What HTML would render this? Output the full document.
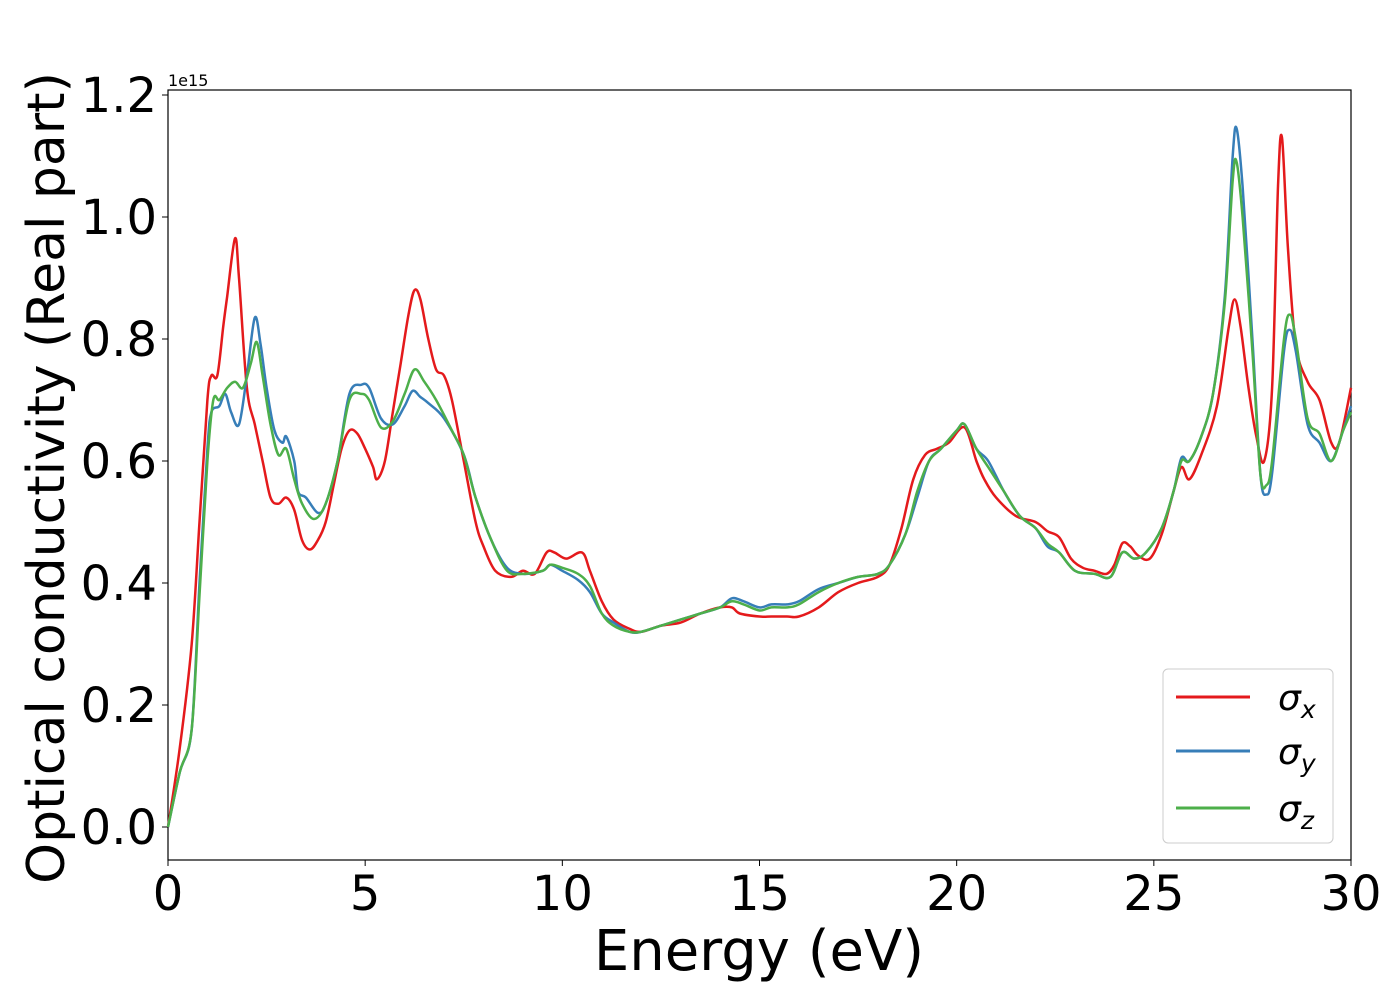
<!DOCTYPE html>
<html><head><meta charset="utf-8"><style>
body{margin:0;background:#fff;}
svg{display:block;font-family:"DejaVu Sans","Liberation Sans",sans-serif;}
</style></head><body>
<svg id="chart" width="1400" height="1000">
<rect x="168" y="90" width="1183" height="770" fill="#fff" stroke="#000" stroke-width="1.2"/>
<g id="ticks"></g>
<g id="lines"></g>
<text x="168" y="86" font-size="16">1e15</text>
<text x="759" y="970" font-size="56" text-anchor="middle">Energy (eV)</text>
<text transform="translate(64,478) rotate(-90)" font-size="52" text-anchor="middle">Optical conductivity (Real part)</text>
<g>
<rect x="1163" y="669" width="170" height="174" rx="5" fill="#fff" fill-opacity="0.8" stroke="#ccc"/>
<line x1="1176" y1="697" x2="1250" y2="697" stroke="#e41a1c" stroke-width="3"/>
<text x="1278" y="710" font-size="36" font-style="italic">σ<tspan font-size="25" dy="8">x</tspan></text>
<line x1="1176" y1="751" x2="1250" y2="751" stroke="#377eb8" stroke-width="3"/>
<text x="1278" y="764" font-size="36" font-style="italic">σ<tspan font-size="25" dy="8">y</tspan></text>
<line x1="1176" y1="808" x2="1250" y2="808" stroke="#4daf4a" stroke-width="3"/>
<text x="1278" y="821" font-size="36" font-style="italic">σ<tspan font-size="25" dy="8">z</tspan></text>
</g>
</svg>
<script>
const xTicks=[0,5,10,15,20,25,30];
const yTicks=[0,0.2,0.4,0.6,0.8,1.0,1.2];
const yTickLabels=["0.0","0.2","0.4","0.6","0.8","1.0","1.2"];
const sxE=[0,0.3,0.6,0.8,1.0,1.1,1.25,1.4,1.5,1.7,1.8,2.0,2.2,2.4,2.6,2.8,3.0,3.2,3.4,3.6,3.8,4.0,4.2,4.4,4.6,4.8,5.0,5.2,5.3,5.5,5.7,5.9,6.1,6.25,6.4,6.6,6.8,7.0,7.2,7.5,7.8,8.0,8.3,8.7,9.0,9.3,9.6,9.8,10.1,10.5,10.7,11.0,11.3,11.7,12.0,12.5,13.0,13.5,14.0,14.3,14.5,15.0,15.3,15.7,16.0,16.5,17.0,17.5,18.0,18.3,18.6,18.9,19.2,19.5,19.8,20.2,20.5,20.7,21.0,21.5,22.0,22.3,22.6,22.9,23.2,23.5,23.8,24.0,24.2,24.4,24.6,24.9,25.2,25.5,25.7,25.9,26.2,26.6,26.9,27.05,27.2,27.4,27.6,27.8,28.0,28.15,28.25,28.4,28.6,28.9,29.2,29.5,29.7,30];
const sxV=[0,0.13,0.3,0.5,0.7,0.74,0.74,0.82,0.87,0.965,0.9,0.72,0.66,0.6,0.54,0.53,0.54,0.52,0.47,0.455,0.47,0.5,0.56,0.62,0.65,0.645,0.62,0.59,0.57,0.6,0.68,0.76,0.84,0.88,0.865,0.8,0.75,0.74,0.7,0.6,0.5,0.46,0.42,0.41,0.42,0.415,0.45,0.45,0.44,0.45,0.42,0.37,0.34,0.325,0.32,0.33,0.335,0.35,0.36,0.36,0.35,0.345,0.345,0.345,0.345,0.36,0.385,0.4,0.41,0.43,0.49,0.57,0.61,0.62,0.63,0.655,0.6,0.57,0.54,0.51,0.5,0.485,0.475,0.44,0.425,0.42,0.415,0.43,0.465,0.46,0.445,0.44,0.48,0.55,0.59,0.57,0.61,0.69,0.82,0.865,0.82,0.72,0.64,0.6,0.72,1.05,1.13,0.95,0.79,0.73,0.7,0.63,0.63,0.72];
const syE=[0,0.3,0.6,0.8,1.0,1.1,1.3,1.45,1.6,1.8,2.0,2.2,2.35,2.5,2.7,2.9,3.0,3.2,3.3,3.5,3.8,4.0,4.3,4.6,4.9,5.1,5.4,5.7,6.0,6.2,6.4,6.6,7.0,7.5,7.8,8.2,8.6,9.0,9.5,9.7,10.0,10.4,10.7,11.0,11.3,11.7,12.0,12.5,13.0,13.5,14.0,14.3,14.6,15.0,15.3,15.7,16.0,16.5,17.0,17.5,18.0,18.3,18.7,19.0,19.3,19.6,20.0,20.2,20.5,20.8,21.2,21.6,22.0,22.3,22.6,23.0,23.5,23.9,24.2,24.5,24.8,25.2,25.5,25.7,25.9,26.2,26.5,26.8,27.0,27.1,27.25,27.5,27.7,27.85,28.0,28.3,28.45,28.6,28.9,29.2,29.5,29.8,30];
const syV=[0,0.09,0.16,0.4,0.62,0.68,0.69,0.71,0.68,0.66,0.74,0.835,0.79,0.72,0.65,0.63,0.64,0.6,0.55,0.54,0.515,0.53,0.6,0.71,0.725,0.72,0.67,0.66,0.69,0.715,0.705,0.695,0.67,0.61,0.54,0.47,0.425,0.415,0.42,0.43,0.42,0.405,0.385,0.35,0.335,0.32,0.32,0.33,0.34,0.35,0.36,0.375,0.37,0.36,0.365,0.365,0.37,0.39,0.4,0.41,0.415,0.43,0.48,0.54,0.6,0.62,0.65,0.66,0.62,0.6,0.55,0.51,0.49,0.46,0.45,0.42,0.415,0.41,0.45,0.44,0.45,0.49,0.55,0.605,0.6,0.64,0.71,0.87,1.1,1.145,1.05,0.8,0.58,0.545,0.58,0.78,0.815,0.78,0.66,0.63,0.6,0.65,0.69];
const szE=[0,0.3,0.6,0.8,1.0,1.15,1.3,1.5,1.7,1.9,2.1,2.25,2.4,2.6,2.8,3.0,3.2,3.4,3.7,4.0,4.3,4.6,4.9,5.1,5.4,5.7,6.0,6.25,6.5,6.8,7.2,7.5,7.8,8.2,8.6,9.0,9.5,9.7,10.0,10.4,10.7,11.0,11.3,11.7,12.0,12.5,13.0,13.5,14.0,14.3,14.6,15.0,15.3,15.7,16.0,16.5,17.0,17.5,18.0,18.3,18.7,19.0,19.3,19.6,20.0,20.2,20.5,20.8,21.2,21.6,22.0,22.3,22.6,23.0,23.5,23.9,24.2,24.5,24.8,25.2,25.5,25.7,25.9,26.2,26.5,26.8,27.0,27.1,27.25,27.5,27.7,27.85,28.0,28.3,28.45,28.6,28.9,29.2,29.5,29.8,30];
const szV=[0,0.09,0.16,0.38,0.6,0.7,0.7,0.72,0.73,0.72,0.76,0.795,0.74,0.66,0.61,0.62,0.57,0.53,0.505,0.53,0.6,0.7,0.71,0.7,0.655,0.665,0.71,0.75,0.73,0.7,0.65,0.61,0.54,0.47,0.42,0.415,0.42,0.43,0.425,0.415,0.395,0.35,0.33,0.32,0.32,0.33,0.34,0.35,0.36,0.37,0.365,0.355,0.36,0.36,0.365,0.385,0.4,0.41,0.415,0.43,0.48,0.55,0.6,0.62,0.65,0.66,0.62,0.59,0.55,0.51,0.49,0.465,0.45,0.42,0.415,0.41,0.45,0.44,0.45,0.49,0.55,0.6,0.6,0.64,0.71,0.86,1.06,1.09,1.0,0.78,0.58,0.56,0.6,0.8,0.84,0.8,0.67,0.645,0.6,0.65,0.68];
const X0=168,X1=1351,Y0=827,PPU=610;
function xs(v){return X0+(v/30)*(X1-X0);}
function ys(v){return Y0-v*PPU;}
const NS="http://www.w3.org/2000/svg";
const tg=document.getElementById('ticks');
xTicks.forEach(t=>{
 const l=document.createElementNS(NS,'line');
 l.setAttribute('x1',xs(t));l.setAttribute('x2',xs(t));l.setAttribute('y1',860);l.setAttribute('y2',866);l.setAttribute('stroke','#000');
 
 
 tg.appendChild(l);
 const tx=document.createElementNS(NS,'text');
 tx.setAttribute('x',xs(t));tx.setAttribute('y',910);tx.setAttribute('font-size','48');tx.setAttribute('text-anchor','middle');tx.textContent=t;
 
 
 tg.appendChild(tx);
});
yTicks.forEach((t,i)=>{
 const l=document.createElementNS(NS,'line');
 l.setAttribute('x1',162);l.setAttribute('x2',168);l.setAttribute('y1',ys(t));l.setAttribute('y2',ys(t));l.setAttribute('stroke','#000');
 
 
 tg.appendChild(l);
 const tx=document.createElementNS(NS,'text');
 tx.setAttribute('x',157);tx.setAttribute('y',ys(t)+17);tx.setAttribute('font-size','48');tx.setAttribute('text-anchor','end');tx.textContent=yTickLabels[i];
 
 
 tg.appendChild(tx);
});
function pathD(E,V){
 const p=E.map((e,i)=>[xs(e),ys(V[i])]);
 let d='M'+p[0][0].toFixed(1)+','+p[0][1].toFixed(1);
 for(let i=0;i<p.length-1;i++){
  const a=p[Math.max(0,i-1)],b=p[i],c=p[i+1],dd=p[Math.min(p.length-1,i+2)];
  const c1=[b[0]+(c[0]-a[0])/6,b[1]+(c[1]-a[1])/6],c2=[c[0]-(dd[0]-b[0])/6,c[1]-(dd[1]-b[1])/6];
  d+='C'+c1[0].toFixed(1)+','+c1[1].toFixed(1)+' '+c2[0].toFixed(1)+','+c2[1].toFixed(1)+' '+c[0].toFixed(1)+','+c[1].toFixed(1);
 }
 return d;
}
const lg=document.getElementById('lines');
[[sxE,sxV,'#e41a1c','series-sigma-x'],[syE,syV,'#377eb8','series-sigma-y'],[szE,szV,'#4daf4a','series-sigma-z']].forEach(s=>{
 const p=document.createElementNS(NS,'path');
 p.setAttribute('d',pathD(s[0],s[1]));p.setAttribute('fill','none');p.setAttribute('stroke',s[2]);p.setAttribute('stroke-width','2.5');
 
 
 lg.appendChild(p);
});
</script>
</body></html>
